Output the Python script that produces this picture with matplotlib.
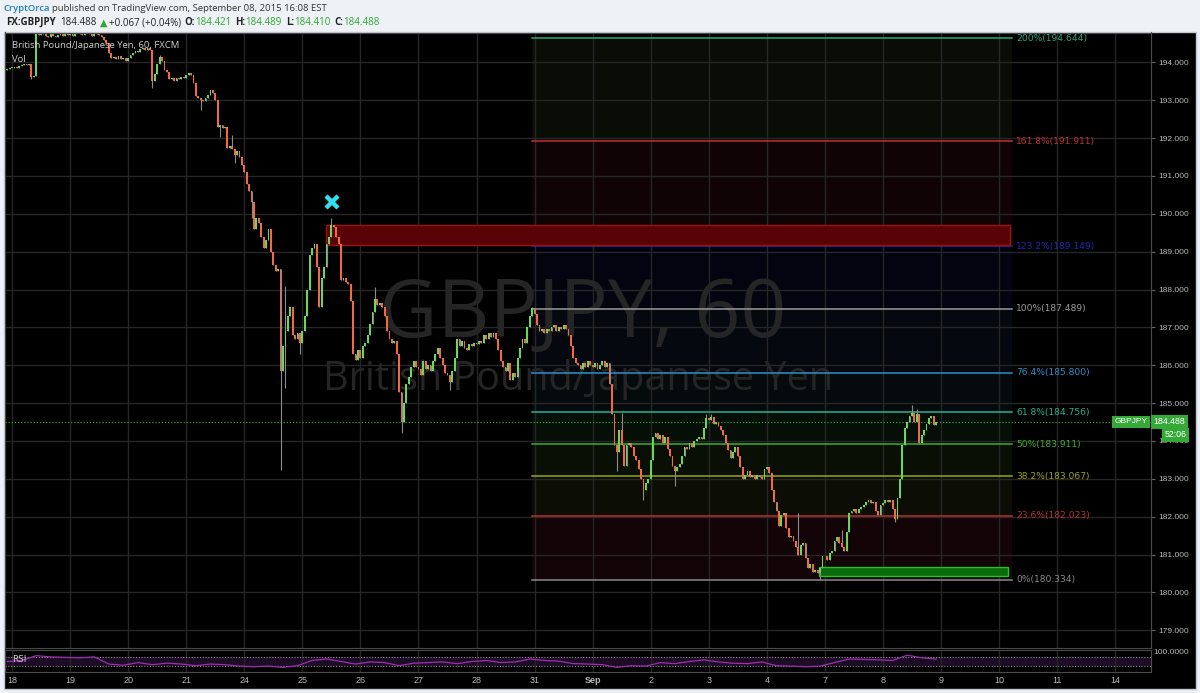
# GBPJPY 60 min chart with fib extension (TradingView style)
import numpy as np
import matplotlib.pyplot as plt
from matplotlib.patches import Rectangle

# hourly closes, 2 bars before the 18th, then one row of 24 per trading day
pre   = [193.82, 193.85]
aug18 = [193.86, 193.88, 193.84, 193.90, 193.92, 193.95, 193.93, 193.97, 193.62, 193.64, 194.78, 194.72,
         194.80, 194.76, 194.70, 194.68, 194.74, 194.70, 194.66, 194.72, 194.75, 194.70, 194.78, 194.72]
aug19 = [194.74, 194.70, 194.78, 194.82, 194.76, 194.72, 194.78, 194.80, 194.74, 194.70, 194.76, 194.78,
         194.72, 194.68, 194.60, 194.50, 194.25, 194.12, 194.15, 194.10, 194.18, 194.08, 194.12, 194.05]
aug20 = [194.12, 194.20, 194.25, 194.30, 194.28, 194.35, 194.38, 194.34, 194.37, 194.32, 193.50, 193.70,
         193.95, 194.15, 194.05, 193.80, 193.75, 193.55, 193.60, 193.52, 193.60, 193.55, 193.62, 193.58]
aug21 = [193.66, 193.71, 193.68, 193.45, 193.10, 193.05, 193.00, 192.98, 193.05, 193.15, 193.27, 193.20,
         193.00, 192.30, 192.35, 192.28, 192.30, 191.75, 191.80, 191.70, 191.55, 191.65, 191.50, 191.30]
aug24 = [191.10, 190.80, 190.60, 190.30, 189.60, 189.90, 189.75, 189.40, 189.10, 189.30, 189.60, 189.00,
         188.65, 188.50, 188.55, 185.85, 186.50, 186.90, 187.30, 187.55, 186.80, 186.70, 186.85, 186.60]
aug25 = [186.90, 187.30, 188.00, 188.90, 189.10, 189.20, 188.60, 187.55, 188.30, 188.60, 189.20, 189.40,
         189.70, 189.65, 189.40, 189.20, 188.25, 188.30, 188.20, 188.15, 187.70, 186.30, 186.15, 186.40]
aug26 = [186.20, 186.50, 186.60, 186.80, 187.10, 187.40, 187.75, 187.60, 187.65, 187.55, 187.30, 186.90,
         186.70, 186.60, 186.65, 186.30, 185.30, 184.50, 185.00, 185.50, 185.70, 185.95, 186.10, 185.95]
aug27 = [185.90, 185.75, 186.10, 185.90, 186.00, 185.85, 186.10, 186.30, 186.45, 186.20, 186.00, 185.80,
         185.75, 185.55, 185.85, 186.20, 186.70, 186.50, 186.65, 186.45, 186.40, 186.55, 186.50, 186.60]
aug28 = [186.55, 186.65, 186.60, 186.80, 186.70, 186.85, 186.75, 186.85, 186.70, 186.40, 186.10, 185.95,
         185.85, 186.05, 185.60, 185.80, 185.70, 186.20, 186.45, 186.70, 186.60, 187.00, 187.30, 187.50]
aug31 = [187.35, 187.05, 186.90, 186.95, 186.85, 186.95, 186.90, 187.00, 187.05, 186.90, 187.00, 186.95,
         187.05, 186.95, 186.80, 186.50, 186.20, 186.05, 186.00, 185.90, 186.05, 185.95, 186.10, 186.00]
sep01 = [185.95, 186.05, 185.90, 186.00, 186.10, 185.95, 186.05, 185.50, 184.70, 183.90, 183.70, 184.30,
         183.90, 183.35, 183.90, 183.95, 183.85, 183.60, 183.50, 183.25, 183.00, 182.70, 182.90, 183.00]
sep02 = [183.50, 184.10, 184.20, 184.05, 184.15, 183.95, 184.10, 183.80, 183.60, 183.35, 183.20, 183.30,
         183.40, 183.60, 183.85, 183.80, 183.95, 183.85, 184.00, 184.05, 184.10, 184.05, 184.35, 184.60]
sep03 = [184.55, 184.62, 184.45, 184.50, 184.40, 184.30, 184.15, 183.95, 183.75, 183.55, 183.70, 183.85,
         183.60, 183.30, 183.00, 183.10, 183.20, 183.05, 183.10, 183.00, 183.10, 183.05, 183.00, 183.25]
sep04 = [183.30, 183.15, 182.70, 182.40, 182.15, 181.75, 182.05, 182.10, 181.70, 181.45, 181.50, 181.35,
         181.20, 181.00, 181.25, 181.30, 180.90, 180.65, 180.75, 180.55, 180.60, 180.50, 180.65, 180.95]
sep07 = [180.95, 180.85, 181.05, 181.10, 181.35, 181.45, 181.30, 181.20, 181.10, 181.60, 182.10, 182.15,
         182.20, 182.10, 182.20, 182.25, 182.30, 182.40, 182.45, 182.35, 182.40, 182.15, 182.05, 182.30]
sep08 = [182.35, 182.45, 182.40, 182.45, 182.20, 181.95, 182.50, 183.00, 183.90, 184.35, 184.50, 184.65,
         184.75, 184.50, 184.70, 183.95, 184.15, 184.30, 184.45, 184.60, 184.65, 184.421, 184.488]
first_open = 193.80

# notable wicks (bar index -> price)
wick_hi = {63: 194.20, 93: 192.08, 115: 188.10, 134: 189.90, 152: 188.06, 217: 187.55,
           254: 184.73, 289: 184.70, 291: 184.72, 327: 182.10, 345: 181.65, 374: 184.95, 376: 184.85}
wick_lo = {10: 193.55, 60: 193.32, 80: 192.74, 88: 192.03, 94: 191.34, 101: 189.90, 113: 183.23,
           115: 185.40, 121: 186.30, 163: 184.20, 183: 185.35, 252: 183.20, 263: 182.44, 276: 182.80,
           336: 180.33, 367: 181.85}

# RSI(14), read every 6 bars
rsi_vals = [50, 55, 78, 72, 70, 68, 72, 38, 32, 45, 35, 42, 38, 30, 38, 35, 28, 25, 28, 22, 30, 55,
            62, 50, 38, 48, 45, 30, 42, 45, 48, 40, 50, 55, 45, 48, 62, 55, 52, 40, 38, 35, 22, 30,
            28, 45, 40, 50, 58, 48, 42, 40, 48, 30, 28, 25, 28, 45, 62, 60, 58, 55, 80, 68, 62]

day_labels = ['18', '19', '20', '21', '24', '25', '26', '27', '28', '31', 'Sep',
              '2', '3', '4', '7', '8', '9', '10', '11', '14']

fib_pct = [0, 23.6, 38.2, 50, 61.8, 76.4, 100, 123.2, 161.8, 200]
fib_price = [180.334, 182.023, 183.067, 183.911, 184.756, 185.800, 187.489, 189.149, 191.911, 194.644]
fib_color = ['#8a8a8a', '#b8302e', '#98a61c', '#3fae2a', '#27b394', '#2f8fcb',
             '#9a9a9a', '#2525b0', '#c0302e', '#2aa57a']
fib_band = ['#130407', '#0c0e06', '#0a0f05', '#050e07', '#050b0c', '#05080f',
            '#040410', '#100305', '#0a0c06']

# ---------------------------------------------------------------
closes = np.array(pre + aug18 + aug19 + aug20 + aug21 + aug24 + aug25 + aug26 + aug27 + aug28
                  + aug31 + sep01 + sep02 + sep03 + sep04 + sep07 + sep08)
opens = np.r_[first_open, closes[:-1]]
highs = np.maximum(opens, closes)
lows = np.minimum(opens, closes)
for b, v in wick_hi.items():
    highs[b] = max(highs[b], v)
for b, v in wick_lo.items():
    lows[b] = min(lows[b], v)
bars = np.arange(len(closes))
up = closes >= opens

W, H = 1200, 693
fx = lambda px: px / W
fy = lambda py: 1 - py / H

fig = plt.figure(figsize=(12, 6.93), dpi=100)
fig.patch.set_facecolor('#eef1f5')
fig.add_artist(Rectangle((fx(4), fy(689)), fx(1192), (689 - 32) / H, transform=fig.transFigure,
                         facecolor='black', edgecolor='#c5cad2', lw=1, zorder=-5))

ax = fig.add_axes([fx(5), fy(648), fx(1146), (648 - 32.5) / H])
rax = fig.add_axes([fx(5), fy(672), fx(1146), (672 - 650) / H])

xlim = (-0.91, 472.8)
tick_pos = 2 + 24 * np.arange(len(day_labels))

for a in (ax, rax):
    a.set_facecolor('black')
    a.set_xlim(*xlim)
    a.set_xticks(tick_pos)
    a.grid(True, axis='x', color='#262626', lw=1)
    a.set_axisbelow(True)
    for s in a.spines.values():
        s.set_color('#4a4a4a')

ax.set_ylim(178.53, 194.79)
ax.set_yticks(range(179, 195))
ax.grid(True, axis='y', color='#262626', lw=1)
ax.yaxis.tick_right()
ax.set_yticklabels([f'{v:.3f}' for v in range(179, 195)], family='Liberation Sans')
ax.tick_params(axis='y', colors='#b8b8b8', labelsize=6, length=3, pad=2)
ax.tick_params(axis='y', color='#666666')
ax.tick_params(axis='x', length=0, labelbottom=False)

# fib bands, lines and labels
x0, x1 = 217, 415.4
for i in range(len(fib_price) - 1):
    ax.fill_between([x0, x1], fib_price[i], fib_price[i + 1], color=fib_band[i], lw=0, zorder=0.3)
for p, c, pc in zip(fib_pct, fib_color, fib_price):
    ax.plot([x0, x1], [pc, pc], color=c, lw=1.1, zorder=1)
    ax.text(417, pc, f'{p:g}%({pc:.3f})', color=c, fontsize=6.6, va='center', ha='left',
            family='DejaVu Sans', zorder=3)

# watermark
ax.text(fx(583), fy(316), 'GBPJPY, 60', transform=fig.transFigure, ha='center', va='center',
        fontsize=58, color='#252525', family='Open Sans', zorder=0.6)
ax.text(fx(578), fy(380), 'British Pound/Japanese Yen', transform=fig.transFigure, ha='center',
        va='center', fontsize=28.5, color='#252525', family='Open Sans', zorder=0.6)

# zones
ax.add_patch(Rectangle((131.9, 189.17), 414.5 - 131.9, 189.70 - 189.17, facecolor='#5a0307',
                       edgecolor='#a01010', lw=1, zorder=1.5))
ax.add_patch(Rectangle((335.6, 180.44), 413.7 - 335.6, 180.67 - 180.44, facecolor='#0b6a0b',
                       edgecolor='#25c025', lw=1, zorder=1.5))

# current price line
ax.axhline(184.488, color='#2fa52f', lw=0.9, ls=(0, (1, 1.5)), zorder=1.2)

# candles
green, red = '#6ad65a', '#f06a45'
ax.vlines(bars, lows, highs, color='#8c8c8c', lw=0.8, zorder=2)
body_lo = np.minimum(opens, closes)
body_h = np.maximum(np.abs(closes - opens), 0.02)
ax.bar(bars, body_h, bottom=body_lo, width=0.75, color=np.where(up, green, red), lw=0, zorder=2.5)

# marker above the swing high
ax.plot([134.3], [190.31], marker='x', ms=9, mew=3.2, color='#2fe0f0', zorder=4)

# texts inside chart
fig.text(fx(12), fy(46), 'British Pound/Japanese Yen, 60, FXCM', color='#cfcfcf', fontsize=6.8,
         family='Open Sans', va='center')
fig.text(fx(12), fy(59), 'Vol', color='#cfcfcf', fontsize=6.8, family='Open Sans', va='center')

# price boxes on axis
box = dict(boxstyle='square,pad=0.25', fc='#35a838', ec='none')
fig.text(fx(1131), fy(422), 'GBPJPY', color='white', fontsize=6, ha='center', va='center',
         family='Liberation Sans', bbox=box)
fig.text(fx(1169.5), fy(422), '184.488', color='white', fontsize=6.3, ha='center', va='center',
         family='Liberation Sans', bbox=box)
fig.text(fx(1175.5), fy(435), '52:06', color='white', fontsize=6.3, ha='center', va='center',
         family='Liberation Sans', bbox=box)

# RSI pane
rax.set_ylim(0, 105)
rax.set_yticks([])
rax.fill_between(list(xlim), 30, 70, color='#1d0c26', lw=0, zorder=0.3)
rax.axhline(70, color='#8a8a8a', lw=0.8, ls=(0, (1, 1.5)))
rax.axhline(30, color='#8a8a8a', lw=0.8, ls=(0, (1, 1.5)))
rsi_bars = np.arange(0, len(closes), 6)
rax.plot(rsi_bars, rsi_vals, color='#9c2fae', lw=0.9, zorder=2)
rax.text(0.006, 0.55, 'RSI', transform=rax.transAxes, color='#cfcfcf', fontsize=6.3, va='center')
fig.text(fx(1153), fy(653), '100.0000', color='#b8b8b8', fontsize=6, va='center',
         family='Liberation Sans')
rax.set_xticklabels(day_labels, family='Liberation Sans')
rax.tick_params(axis='x', colors='#b8b8b8', labelsize=6.5, length=0, pad=3)
for t in rax.get_xticklabels():
    if t.get_text() == 'Sep':
        t.set_fontweight('bold')

# header
fig.text(fx(4), fy(8.5), 'CryptOrca', color='#1f7fc3', fontsize=6.8, family='Open Sans',
         fontweight='semibold', va='center')
fig.text(fx(52), fy(8.5), 'published on TradingView.com, September 08, 2015 16:08 EST', color='#333333',
         fontsize=6.8, family='Open Sans', va='center')

# second header line, pieces laid out one after another
hdr = [('FX:GBPJPY', '#222222', 'bold', 5), ('184.488', '#222222', 'normal', 3),
       ('▲', '#2ea82e', 'normal', 1), ('+0.067 (+0.04%)', '#222222', 'normal', 4),
       ('O:', '#222222', 'bold', 0), ('184.421', '#2ea82e', 'normal', 4),
       ('H:', '#222222', 'bold', 0), ('184.489', '#2ea82e', 'normal', 4),
       ('L:', '#222222', 'bold', 0), ('184.410', '#2ea82e', 'normal', 4),
       ('C:', '#222222', 'bold', 0), ('184.488', '#2ea82e', 'normal', 0)]
rend = fig.canvas.get_renderer()
px = 6
for s, c, w, gap in hdr:
    fam = 'DejaVu Sans' if s == '▲' else 'Open Sans'
    t = fig.text(fx(px), fy(22.7), s, color=c, fontsize=7.0, family=fam, fontweight=w, va='center')
    px += t.get_window_extent(rend).width + gap

fig.savefig('out.png', dpi=100, facecolor=fig.get_facecolor())
